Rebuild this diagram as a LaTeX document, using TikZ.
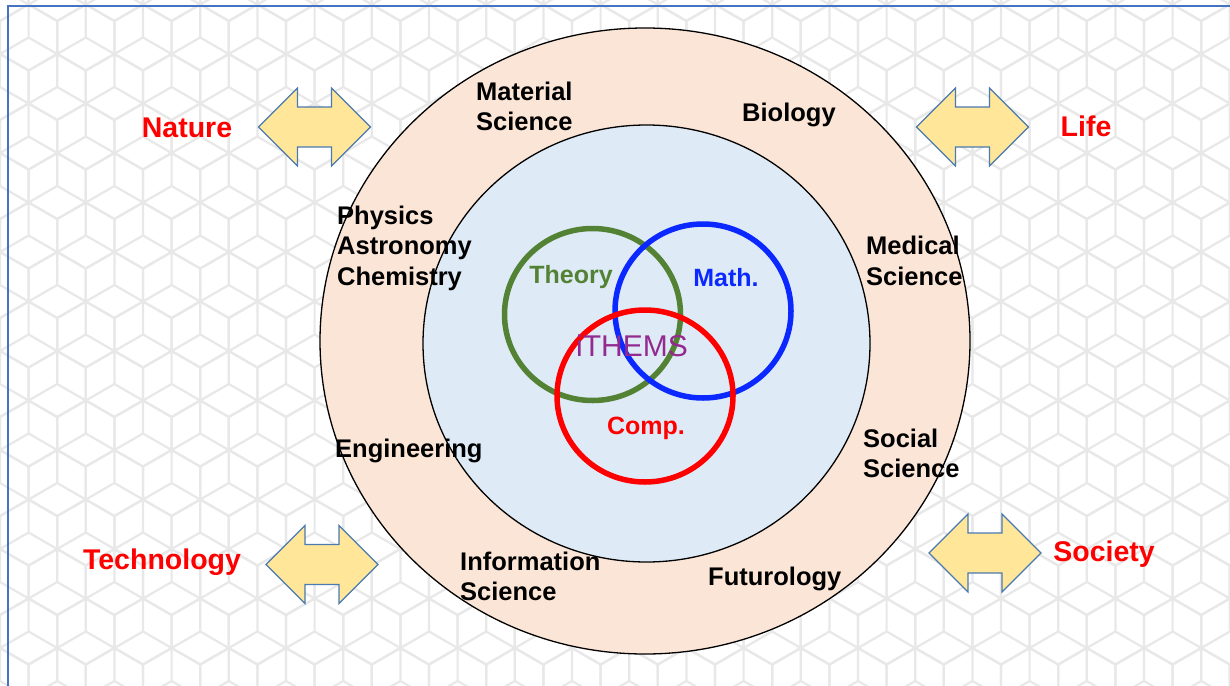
\documentclass[tikz,border=0pt]{standalone}
\usepackage{fontspec}
\setmainfont{Liberation Sans}
\definecolor{peach}{HTML}{FBE5D6}
\definecolor{paleblue}{HTML}{DEEBF7}
\definecolor{theorygreen}{HTML}{548235}
\definecolor{mathblue}{HTML}{0A28FF}
\definecolor{arrowfill}{HTML}{FFE699}
\definecolor{arrowline}{HTML}{4A7AB0}
\definecolor{frameblue}{HTML}{4472C4}
\definecolor{purp}{HTML}{932A8F}
\definecolor{tile}{HTML}{E8E8E8}
\tikzset{
  field/.style={anchor=west,inner sep=0pt,align=left,font=\bfseries\fontsize{25.5pt}{30.5pt}\selectfont,text=black},
  world/.style={inner sep=0pt,font=\bfseries\fontsize{28.5pt}{32pt}\selectfont,text=red},
  venn/.style={inner sep=0pt,font=\bfseries\fontsize{25pt}{30pt}\selectfont},
  dblarrow/.style={draw=arrowline,fill=arrowfill,line width=1.2pt,line join=miter},
  ring/.style={draw=black,line width=1.3pt},
  vcirc/.style={line width=5.5pt}
}
\newcommand{\twoway}[2]{%
  \draw[dblarrow,shift={(#1,#2)}] (-56,0) -- (-17,-39) -- (-17,-20) -- (17,-20) -- (17,-39) -- (56,0) -- (17,39) -- (17,20) -- (-17,20) -- (-17,39) -- cycle;}
\begin{document}
\begin{tikzpicture}[x=1pt,y=-1pt]
\useasboundingbox (0,0) rectangle (1230,685);
\fill[white] (0,0) rectangle (1230,685);
% background tiling
\begin{scope}
\clip (0,0) rectangle (1230,685);
\foreach \r in {0,...,15}{
  \foreach \c in {-1,...,22}{
    \pgfmathsetmacro{\hx}{\c*57.2 + mod(\r,2)*28.6}
    \pgfmathsetmacro{\hy}{\r*49.5 - 12}
    \draw[tile,line width=2.2pt,shift={(\hx,\hy)}]
      (30:33pt) -- (90:33pt) -- (150:33pt) -- (210:33pt) -- (270:33pt) -- (330:33pt) -- cycle
      (0,0) -- (90:33pt) (0,0) -- (210:33pt) (0,0) -- (330:33pt);
  }
}
\end{scope}
% frame
\draw[frameblue,line width=2.4pt] (8,690) -- (8,6) -- (1235,6);
% rings
\draw[ring,fill=peach] (645,341) ellipse [x radius=325pt, y radius=313pt];
\draw[ring,fill=paleblue] (646.5,343.5) ellipse [x radius=223.5pt, y radius=218.5pt];
% venn circles
\draw[vcirc,draw=theorygreen] (592.5,314.5) ellipse [x radius=88pt, y radius=86pt];
\draw[vcirc,draw=mathblue] (703,311) ellipse [x radius=88pt, y radius=87pt];
\draw[vcirc,draw=red] (645,396) ellipse [x radius=88pt, y radius=86pt];
% venn labels
\node[venn,text=theorygreen] (theory) at (571,277) {Theory};
\node[venn,text=mathblue] (math) at (726,278) {Math.};
\node[venn,text=red] (comp) at (646,428) {Comp.};
\node[inner sep=0pt,text=purp,font=\fontsize{30pt}{32pt}\selectfont] (ithems) at (632,346) {iTHEMS};
% field labels
\node[field] (material) at (476,106.5) {Material\\Science};
\node[field] (biology) at (742,115) {Biology};
\node[field] (physics) at (337,248) {Physics\\Astronomy\\Chemistry};
\node[field] (medical) at (866,261) {Medical\\Science};
\node[field] (engineering) at (335,451) {Engineering};
\node[field] (social) at (863,453.5) {Social\\Science};
\node[field] (information) at (460,576.5) {Information\\Science};
\node[field] (futurology) at (708,579) {Futurology};
% double arrows
\twoway{314.5}{127}
\twoway{972.5}{127}
\twoway{322}{564.5}
\twoway{985}{553}
% world labels
\node[world] (nature) at (187,128) {Nature};
\node[world] (life) at (1086,126) {Life};
\node[world] (technology) at (162,562) {Technology};
\node[world] (society) at (1104,554) {Society};
\end{tikzpicture}
\end{document}
